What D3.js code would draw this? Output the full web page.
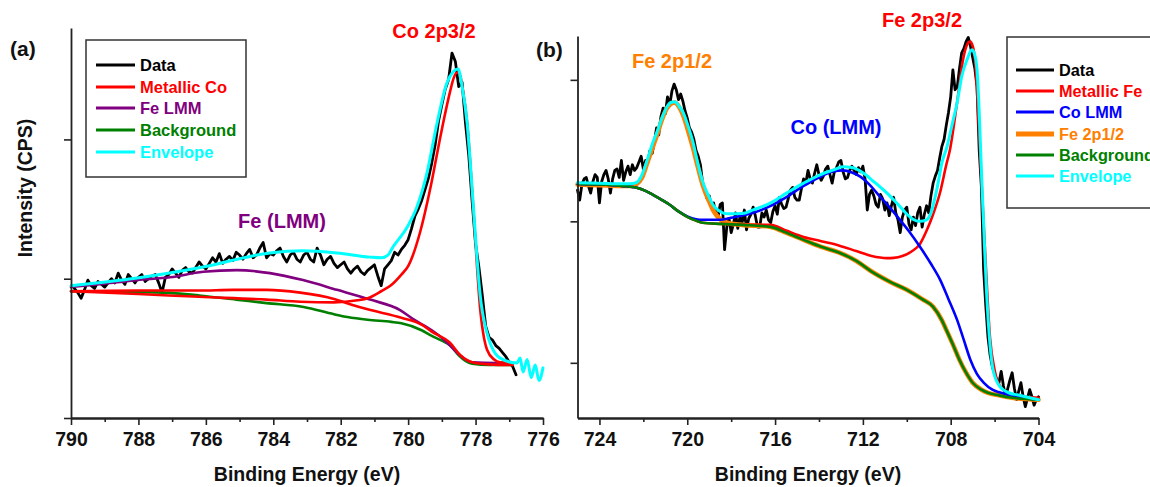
<!DOCTYPE html>
<html><head><meta charset="utf-8">
<script src="https://cdn.jsdelivr.net/npm/d3@7"></script>
<style>
body{margin:0;background:#fff}
svg{display:block}
text{font-family:"Liberation Sans",Arial,sans-serif;font-weight:bold}
</style>
</head><body>
<svg id="c" width="1150" height="487"></svg>
<script>
// ---------- Panel (a): Co 2p ----------
const aData = [[789.9,0.93],[789.8,0.90],[789.7,0.86],[789.6,0.92],[789.5,0.99],[789.4,0.95],[789.3,0.93],[789.2,0.98],[789.1,0.96],[789.0,0.94],
[788.9,0.97],[788.8,1.00],[788.7,0.97],[788.6,1.04],[788.5,0.99],[788.4,0.96],[788.3,1.03],[788.2,1.00],[788.1,0.97],[788.0,1.01],
[787.9,1.03],[787.8,0.98],[787.7,1.00],[787.6,1.02],[787.5,1.03],[787.4,0.97],[787.3,0.90],[787.2,1.01],[787.1,1.03],[787.0,1.07],
[786.9,1.04],[786.8,1.01],[786.7,1.06],[786.6,1.08],[786.5,1.05],[786.4,1.04],[786.3,1.08],[786.2,1.12],[786.1,1.09],[786.0,1.07],
[785.9,1.11],[785.8,1.15],[785.7,1.12],[785.6,1.18],[785.5,1.11],[785.4,1.14],[785.3,1.16],[785.2,1.13],[785.1,1.19],[785.0,1.17],
[784.9,1.14],[784.8,1.18],[784.7,1.21],[784.6,1.15],[784.5,1.17],[784.4,1.22],[784.3,1.26],[784.2,1.15],[784.1,1.18],[784.0,1.17],
[783.9,1.20],[783.8,1.22],[783.7,1.16],[783.6,1.12],[783.5,1.17],[783.4,1.19],[783.3,1.14],[783.2,1.12],[783.1,1.17],[783.0,1.19],
[782.9,1.14],[782.8,1.12],[782.7,1.22],[782.6,1.17],[782.5,1.10],[782.4,1.14],[782.3,1.16],[782.2,1.11],[782.1,1.08],[782.0,1.10],
[781.9,1.12],[781.8,1.07],[781.7,1.04],[781.6,1.07],[781.5,1.09],[781.4,1.05],[781.3,1.03],[781.2,1.06],[781.1,1.08],[781.0,1.10],
[780.9,1.02],[780.8,0.95],[780.7,1.07],[780.6,1.10],[780.5,1.13],[780.4,1.19],[780.3,1.17],[780.2,1.21],[780.1,1.24],[780.0,1.28],
[779.9,1.36],[779.8,1.45],[779.7,1.50],[779.6,1.56],[779.5,1.64],[779.4,1.72],[779.3,1.83],[779.2,1.96],[779.1,2.13],[779.0,2.25],
[778.9,2.36],[778.8,2.43],[778.7,2.62],[778.6,2.56],[778.5,2.38],[778.4,2.41],[778.3,2.12],[778.2,1.88],[778.1,1.55],[778.0,1.25],
[777.9,1.08],[777.8,0.88],[777.7,0.66],[777.6,0.58],[777.5,0.56],[777.4,0.52],[777.3,0.50],[777.2,0.47],[777.1,0.44],[777.0,0.40],
[776.9,0.37],[776.8,0.31]];
const aBackground = [[790,0.91],[789,0.91],[788,0.905],[786.9,0.895],[786.2,0.88],[785.1,0.85],[784.2,0.825],[783.1,0.797],[782.2,0.745],[781.8,0.725],
[781.2,0.705],[780.5,0.69],[780.2,0.68],[779.6,0.63],[779.3,0.59],[779.0,0.555],[778.75,0.52],[778.5,0.45],[778.3,0.41],[778.1,0.39],[777.6,0.38],[776.9,0.38]];
const aFeLMM = [[790,0.94],[789,0.965],[788.04,0.99],[787.06,1.01],[786.08,1.05],[785.08,1.062],[784.1,1.04],[783.12,0.99],[782.11,0.92],[781.13,0.85],
[780.24,0.775],[779.85,0.71],[779.3,0.63],[779.05,0.585],[778.8,0.53],[778.55,0.47],[778.3,0.42],[778.1,0.40],[777.4,0.395],[776.9,0.395]];
const aMetalCoSat = [[790,0.91],[788,0.915],[786.2,0.915],[785.2,0.92],[784.2,0.92],[783.2,0.90],[782.2,0.855],[781.7,0.815],[781.2,0.78],[780.2,0.72],
[779.6,0.67],[779.3,0.62],[778.76,0.54],[778.45,0.45],[778.1,0.40],[777.6,0.385],[776.9,0.38]];
const aMetalCoMain = [[790,0.91],[788,0.89],[786.2,0.87],[784.2,0.85],[783.2,0.835],[782.2,0.83],[781.5,0.845],[781.2,0.86],[780.8,0.91],[780.5,0.955],
[780.2,1.03],[780.0,1.09],[779.65,1.33],[779.35,1.64],[779.1,1.95],[778.96,2.12],[778.76,2.34],[778.65,2.44],[778.55,2.48],[778.46,2.46],
[778.38,2.36],[778.25,2.12],[778.07,1.52],[777.87,0.80],[777.66,0.49],[777.45,0.42],[777.27,0.40],[776.9,0.395]];
const aEnvelope = [[790,0.95],[788.04,1.005],[786.08,1.084],[784.1,1.185],[783.12,1.20],[782.11,1.185],[781.13,1.155],[780.8,1.15],[780.6,1.17],[780.45,1.228],
[780.03,1.37],[779.74,1.515],[779.44,1.76],[779.14,2.12],[778.85,2.405],[778.67,2.484],[778.52,2.505],[778.4,2.38],[778.25,2.118],[778.1,1.637],
[777.96,1.156],[777.87,0.897],[777.66,0.61],[777.27,0.43],[776.77,0.395],[776.68,0.43],[776.59,0.33],[776.47,0.42],[776.35,0.29],[776.23,0.38],
[776.12,0.27],[776.0,0.36]];

// ---------- Panel (b): Fe 2p ----------
const bData = [[725.0,2.22],[724.9,2.15],[724.8,2.26],[724.7,2.30],[724.6,2.31],[724.5,2.25],[724.4,2.20],[724.3,2.28],[724.2,2.33],[724.1,2.31],
[724.0,2.13],[723.9,2.28],[723.8,2.33],[723.7,2.36],[723.6,2.30],[723.5,2.20],[723.4,2.30],[723.3,2.36],[723.2,2.37],[723.1,2.31],
[723.0,2.43],[722.9,2.29],[722.8,2.35],[722.7,2.39],[722.6,2.33],[722.5,2.40],[722.4,2.36],[722.3,2.38],[722.2,2.42],[722.1,2.46],
[722.0,2.37],[721.9,2.43],[721.8,2.41],[721.7,2.50],[721.6,2.48],[721.5,2.56],[721.4,2.66],[721.3,2.61],[721.2,2.74],[721.1,2.80],
[721.0,2.76],[720.9,2.88],[720.8,2.82],[720.7,2.92],[720.6,2.97],[720.5,2.93],[720.4,2.86],[720.3,2.90],[720.2,2.85],[720.1,2.78],
[720.0,2.73],[719.9,2.66],[719.8,2.63],[719.7,2.58],[719.6,2.50],[719.5,2.46],[719.4,2.40],[719.3,2.27],[719.2,2.22],[719.1,2.16],
[719.0,2.18],[718.9,2.11],[718.8,2.13],[718.7,2.06],[718.6,2.03],[718.5,2.12],[718.4,2.13],[718.3,1.80],[718.2,1.96],[718.1,2.02],
[718.0,1.92],[717.9,1.98],[717.8,2.06],[717.7,1.95],[717.6,2.03],[717.5,1.99],[717.4,2.08],[717.3,1.94],[717.2,2.02],[717.1,2.05],
[717.0,2.10],[716.9,2.04],[716.8,1.96],[716.7,1.96],[716.6,2.06],[716.5,2.03],[716.4,2.08],[716.3,2.01],[716.2,1.99],[716.1,2.07],
[716.0,2.11],[715.9,2.05],[715.8,2.17],[715.7,2.12],[715.6,2.09],[715.5,2.10],[715.4,2.16],[715.3,2.22],[715.2,2.24],[715.1,2.17],
[715.0,2.15],[714.9,2.15],[714.8,2.23],[714.7,2.30],[714.6,2.27],[714.5,2.36],[714.4,2.30],[714.3,2.27],[714.2,2.34],[714.1,2.40],
[714.0,2.33],[713.9,2.29],[713.8,2.32],[713.7,2.37],[713.6,2.39],[713.5,2.33],[713.4,2.27],[713.3,2.35],[713.2,2.38],[713.1,2.42],
[713.0,2.43],[712.9,2.35],[712.8,2.30],[712.7,2.31],[712.6,2.36],[712.5,2.39],[712.4,2.36],[712.3,2.33],[712.2,2.38],[712.1,2.35],
[712.0,2.39],[711.9,2.30],[711.8,2.08],[711.7,2.19],[711.6,2.22],[711.5,2.18],[711.4,2.12],[711.3,2.10],[711.2,2.19],[711.1,2.16],
[711.0,2.08],[710.9,2.13],[710.8,2.04],[710.7,2.11],[710.6,2.17],[710.5,2.06],[710.4,2.01],[710.3,1.92],[710.2,2.03],[710.1,2.08],
[710.0,2.10],[709.9,1.98],[709.8,1.94],[709.7,2.03],[709.6,1.97],[709.5,2.06],[709.4,2.10],[709.3,1.96],[709.2,2.05],[709.1,2.11],
[709.0,2.06],[708.9,2.18],[708.8,2.27],[708.7,2.32],[708.6,2.36],[708.5,2.45],[708.4,2.53],[708.3,2.58],[708.2,2.68],[708.1,2.77],
[708.0,2.88],[707.9,3.07],[707.8,2.93],[707.7,2.95],[707.6,3.08],[707.5,3.19],[707.4,3.22],[707.3,3.27],[707.2,3.30],[707.1,3.24],
[707.0,3.16],[706.9,3.08],[706.8,2.95],[706.7,2.50],[706.6,2.24],[706.5,1.66],[706.4,1.40],[706.3,1.18],[706.2,1.05],[706.1,0.97],
[706.0,0.92],[705.9,0.88],[705.8,0.86],[705.7,0.94],[705.6,0.84],[705.5,0.76],[705.4,0.82],[705.3,0.88],[705.2,0.93],[705.1,0.82],
[705.0,0.74],[704.9,0.80],[704.8,0.86],[704.7,0.76],[704.6,0.69],[704.5,0.75],[704.4,0.81],[704.3,0.76],[704.2,0.70],[704.1,0.74],[704.0,0.76]];
const bBackground = [[725,2.265],[724,2.26],[723,2.25],[722.3,2.237],[721.9,2.215],[721.56,2.187],[721.2,2.155],[720.8,2.117],[720.4,2.07],[720.0,2.032],
[719.6,2.005],[719.3,1.99],[718.5,1.982],[717.5,1.975],[716.2,1.961],[715.5,1.92],[714.7,1.869],[713.9,1.82],[713.1,1.78],[712.3,1.72],
[711.6,1.645],[710.8,1.575],[710.0,1.516],[709.3,1.45],[708.8,1.396],[708.4,1.30],[708.2,1.233],[707.9,1.13],[707.6,1.021],[707.3,0.93],
[707.0,0.859],[706.6,0.81],[706.3,0.788],[705.8,0.77],[705.2,0.753],[704,0.739]];
const bFe2p12 = [[725,2.26],[724,2.255],[723,2.25],[722.6,2.25],[722.3,2.265],[722.06,2.31],[721.83,2.41],[721.56,2.53],[721.38,2.61],[721.15,2.72],
[720.92,2.80],[720.75,2.83],[720.56,2.84],[720.4,2.815],[720.19,2.75],[720.0,2.66],[719.74,2.52],[719.56,2.41],[719.28,2.25],[719.0,2.14],
[718.83,2.08],[718.6,2.03],[718.37,2.0],[718.05,1.985],[717.5,1.975],[716.2,1.961],[715.5,1.92],[714.7,1.869],[713.9,1.82],[713.1,1.78],
[712.3,1.72],[711.6,1.645],[710.8,1.575],[710.0,1.516],[709.3,1.45],[708.8,1.396],[708.4,1.30],[708.2,1.233],[707.9,1.13],[707.6,1.021],
[707.3,0.93],[707.0,0.859],[706.6,0.81],[706.3,0.788],[705.8,0.77],[705.2,0.753],[704,0.739]];
const bCoLMM = [[725,2.265],[724,2.26],[723,2.25],[722.3,2.237],[721.9,2.215],[721.56,2.187],[721.2,2.155],[720.8,2.117],[720.4,2.07],[720.0,2.035],
[719.6,2.015],[719.3,2.011],[718.5,2.011],[718.0,2.025],[717.0,2.06],[716.2,2.11],[715.5,2.17],[714.7,2.25],[714.0,2.31],[713.4,2.35],
[712.9,2.36],[712.5,2.345],[712.1,2.314],[711.7,2.26],[711.36,2.20],[710.9,2.12],[710.44,2.035],[709.9,1.93],[709.4,1.82],[708.9,1.70],
[708.49,1.59],[708.1,1.45],[707.7,1.30],[707.4,1.16],[707.1,1.02],[706.8,0.92],[706.5,0.86],[706.1,0.81],[705.75,0.79],[705.0,0.76],[704,0.739]];
const bMetalFe = [[725,2.265],[724,2.26],[723,2.25],[722.3,2.237],[721.9,2.215],[721.56,2.187],[721.2,2.155],[720.8,2.117],[720.4,2.07],[720.0,2.032],
[719.6,2.005],[719.3,1.99],[718.5,1.982],[717.5,1.977],[717.0,1.976],[716.2,1.975],[715.5,1.935],[714.7,1.89],[713.9,1.86],[713.1,1.83],
[712.3,1.79],[711.6,1.755],[710.9,1.74],[710.6,1.742],[710.2,1.755],[709.8,1.785],[709.4,1.84],[709.08,1.94],[708.8,2.05],[708.49,2.20],
[708.2,2.40],[708.04,2.50],[707.71,2.84],[707.44,3.14],[707.25,3.25],[707.12,3.27],[707.0,3.24],[706.89,3.14],[706.66,2.48],[706.43,1.78],
[706.21,1.18],[706.0,0.95],[705.89,0.88],[705.6,0.81],[705.43,0.79],[705.0,0.765],[704,0.753]];
const bEnvelope = [[725,2.272],[724,2.27],[723,2.265],[722.6,2.265],[722.3,2.275],[722.06,2.33],[721.83,2.43],[721.56,2.56],[721.38,2.63],[721.15,2.73],
[720.92,2.81],[720.75,2.84],[720.56,2.845],[720.4,2.82],[720.19,2.77],[720.0,2.69],[719.74,2.56],[719.56,2.435],[719.28,2.272],[719.0,2.17],
[718.83,2.117],[718.5,2.07],[718.19,2.053],[717.5,2.055],[717.0,2.081],[716.2,2.13],[715.46,2.201],[714.7,2.27],[713.95,2.329],[713.4,2.36],
[712.9,2.385],[712.5,2.38],[712.0,2.343],[711.5,2.28],[711.22,2.244],[710.9,2.20],[710.4,2.12],[709.99,2.05],[709.72,2.015],[709.4,2.0],
[709.1,2.01],[708.9,2.06],[708.62,2.234],[708.4,2.413],[708.17,2.527],[707.94,2.68],[707.71,2.837],[707.49,3.03],[707.26,3.141],[707.03,3.212],
[706.89,3.17],[706.8,3.07],[706.57,2.244],[706.34,1.424],[706.07,0.951],[705.75,0.830],[705.3,0.785],[704.98,0.774],[704,0.739]];

// ---------- ticks & labels ----------
const aMajorTicks = [790,788,786,784,782,780,778,776];
const aMinorTicks = [789,787,785,783,781,779,777];
const aYTicks = [0,1,2];
const bMajorTicks = [724,720,716,712,708,704];
const bMinorTicks = [722,718,714,710,706];
const bYTicks = [1,2,3];
const aLegend = ["Data","Metallic Co","Fe LMM","Background","Envelope"];
const bLegend = ["Data","Metallic Fe","Co LMM","Fe 2p1/2","Background","Envelope"];

const C = {data:"#000000", red:"#ff0000", purple:"#800080", green:"#008000", cyan:"#00ffff", blue:"#0000ff", orange:"#ff8000"};

const svg = d3.select("#c");

function panel(cfg){
  const x = d3.scaleLinear().domain(cfg.xd).range(cfg.xr);
  const y = d3.scaleLinear().domain(cfg.yd).range(cfg.yr);
  const g = svg.append("g");
  const line = d3.line().x(d=>x(d[0])).y(d=>y(d[1]));
  const smooth = d3.line().x(d=>x(d[0])).y(d=>y(d[1])).curve(d3.curveMonotoneX);
  cfg.series.forEach(s=>{
    g.append("path").datum(s.d).attr("fill","none").attr("stroke",s.c)
      .attr("stroke-width",s.w).attr("stroke-linejoin","round").attr("stroke-linecap","round")
      .attr("d", s.raw ? line : smooth);
  });
  // axes
  const xb = cfg.yr[0];
  const minor = g.append("g").attr("transform",`translate(0,${xb})`)
    .call(d3.axisBottom(x).tickValues(cfg.minor).tickSize(4).tickSizeOuter(0).tickFormat(""));
  const major = g.append("g").attr("transform",`translate(0,${xb})`)
    .call(d3.axisBottom(x).tickValues(cfg.major).tickSize(7).tickSizeOuter(0).tickPadding(7).tickFormat(d3.format("d")));
  const ya = g.append("g").attr("transform",`translate(${cfg.xr[0]},0)`)
    .call(d3.axisLeft(y).tickValues(cfg.yt).tickSize(7).tickSizeOuter(0).tickFormat(""));
  [minor,major,ya].forEach(a=>{
    a.select(".domain").attr("stroke","#222").attr("stroke-width",1.8);
    a.selectAll(".tick line").attr("stroke","#222").attr("stroke-width",1.6);
  });
  major.selectAll(".tick text").attr("font-size","19.5px").attr("font-weight","bold")
    .attr("fill","#111").style("font-family",'"Liberation Sans",Arial,sans-serif');
  g.append("text").attr("x",cfg.xlabelX).attr("y",481).attr("text-anchor","middle")
    .attr("font-size","19.5px").attr("fill","#111").text("Binding Energy (eV)");
  return {x,y,g};
}

// panel a
const pa = panel({xd:[790,776], xr:[71,543], yd:[0,2.8], yr:[418,28],
  major:aMajorTicks, minor:aMinorTicks, yt:aYTicks, xlabelX:307,
  series:[
    {d:aData,c:C.data,w:2.8,raw:true},
    {d:aBackground,c:C.green,w:2.6},
    {d:aFeLMM,c:C.purple,w:2.6},
    {d:aMetalCoSat,c:C.red,w:2.6},
    {d:aMetalCoMain,c:C.red,w:2.6},
    {d:aEnvelope,c:C.cyan,w:3}
  ]});
// panel b
const pb = panel({xd:[725,704], xr:[577.5,1038.5], yd:[0.61,3.31], yr:[418,36],
  major:bMajorTicks, minor:bMinorTicks, yt:bYTicks, xlabelX:808,
  series:[
    {d:bData,c:C.data,w:2.8,raw:true},
    {d:bFe2p12,c:C.orange,w:4.6},
    {d:bMetalFe,c:C.red,w:2.6},
    {d:bCoLMM,c:C.blue,w:2.6},
    {d:bBackground,c:C.green,w:2.6},
    {d:bEnvelope,c:C.cyan,w:3}
  ]});

// y label
svg.append("text").attr("transform","translate(32,188) rotate(-90)").attr("text-anchor","middle")
  .attr("font-size","19.5px").attr("fill","#111").text("Intensity (CPS)");

// panel letters
svg.append("text").attr("x",10).attr("y",56).attr("font-size","21px").attr("fill","#111").text("(a)");
svg.append("text").attr("x",536).attr("y",57).attr("font-size","21px").attr("fill","#111").text("(b)");

// annotations
const ann = [
  {t:"Co 2p3/2", x:434, y:38, c:C.red},
  {t:"Fe (LMM)", x:282, y:228, c:C.purple},
  {t:"Fe 2p1/2", x:672, y:68, c:C.orange},
  {t:"Co (LMM)", x:836, y:134, c:C.blue},
  {t:"Fe 2p3/2", x:922, y:27, c:C.red}
];
ann.forEach(a=>svg.append("text").attr("x",a.x).attr("y",a.y).attr("text-anchor","middle")
  .attr("font-size","20px").attr("fill",a.c).text(a.t));

// legends
function legend(x0,y0,w,h,rowY,labels,colors,widths,lx1,lx2,tx,fs){
  const g = svg.append("g");
  g.append("rect").attr("x",x0).attr("y",y0).attr("width",w).attr("height",h)
    .attr("fill","#fff").attr("stroke","#333").attr("stroke-width",1.5);
  labels.forEach((l,i)=>{
    const yy = rowY[i];
    g.append("line").attr("x1",lx1).attr("x2",lx2).attr("y1",yy).attr("y2",yy)
      .attr("stroke",colors[i]).attr("stroke-width",widths[i]);
    g.append("text").attr("x",tx).attr("y",yy+6).attr("font-size",fs).attr("fill",colors[i]).text(l);
  });
}
legend(86,40,160,137,[65,87,108,130,152],aLegend,[C.data,C.red,C.purple,C.green,C.cyan],[3,3,3,3,3],96,135,140,"16.5px");
legend(1007,37,200,171,[70,91,112,134,155,176],bLegend,[C.data,C.red,C.blue,C.orange,C.green,C.cyan],[3,3,3,5,3,3],1016,1054,1059,"16.3px");
</script>
</body></html>
